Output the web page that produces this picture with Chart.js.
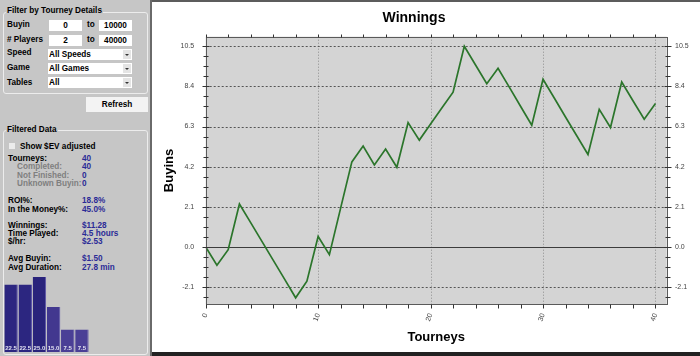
<!DOCTYPE html>
<html>
<head>
<meta charset="utf-8">
<script src="https://cdn.jsdelivr.net/npm/chart.js@4.4.1/dist/chart.umd.min.js"></script>
<style>
  html, body { margin:0; padding:0; }
  body { width:700px; height:356px; position:relative; overflow:hidden; background:#fff;
         font-family:'Liberation Sans', Arial, sans-serif; font-size:8.2px; font-weight:bold; color:#000; }
  .abs { position:absolute; }
  #panel { left:0; top:0; width:150px; height:356px; background:#c6c6c6; }
  #sep { left:150px; top:0; width:2px; height:356px; background:#6a6a6a; }
  #topbar { left:152px; top:0; width:548px; height:2px; background:#5c5c5c; }
  #botbar { left:152px; top:352px; width:548px; height:4px; background:#222; }
  .t { position:absolute; white-space:nowrap; line-height:10px; height:10px; }
  .grp { position:absolute; border:1px solid #ececec; border-radius:3px; }
  .leg { background:#c6c6c6; padding:0 1px; }
  .inp { position:absolute; background:#fff; text-align:center; height:11px; line-height:11px; width:33px; }
  .sel { position:absolute; background:#fff; height:11px; line-height:11px; width:84px; left:48px; }
  .sel span { position:absolute; left:1px; top:0; }
  .sel i { position:absolute; right:1px; top:1px; width:8px; height:9px; background:#e4e4e4; }
  .sel i:after { content:''; position:absolute; left:2px; top:4px; border-left:2px solid transparent; border-right:2px solid transparent; border-top:2px solid #333; }
  .g { color:#7f7f7f; }
  .v { color:#2b2b96; left:82px; }
  #refresh { left:86px; top:97px; width:62px; height:15px; line-height:15px; background:#f3f3f3; text-align:center; }
  #chk { left:9px; top:143px; width:6px; height:6px; background:#ececec; border:0; }
  #main { position:absolute; left:152px; top:2px; }
  #hist { position:absolute; left:4px; top:270px; }
</style>
</head>
<body>
<div id="panel" class="abs"></div>
<div id="sep" class="abs"></div>
<div id="topbar" class="abs"></div>
<div id="botbar" class="abs"></div>

<div class="grp" style="left:3px;top:12px;width:143px;height:80px;"></div>
<div class="t leg" style="left:6px;top:6px;">Filter by Tourney Details</div>
<div class="t" style="left:7px;top:20px;">Buyin</div>
<div class="inp" style="left:49px;top:20px;">0</div>
<div class="t" style="left:87px;top:20px;">to</div>
<div class="inp" style="left:99px;top:20px;">10000</div>
<div class="t" style="left:7px;top:35px;"># Players</div>
<div class="inp" style="left:49px;top:35px;">2</div>
<div class="t" style="left:87px;top:35px;">to</div>
<div class="inp" style="left:99px;top:35px;">40000</div>
<div class="t" style="left:7px;top:48px;">Speed</div>
<div class="sel" style="top:49px;"><span>All Speeds</span><i></i></div>
<div class="t" style="left:7px;top:63px;">Game</div>
<div class="sel" style="top:63px;"><span>All Games</span><i></i></div>
<div class="t" style="left:7px;top:78px;">Tables</div>
<div class="sel" style="top:77px;"><span>All</span><i></i></div>
<div id="refresh" class="abs">Refresh</div>

<div class="grp" style="left:3px;top:130px;width:143px;height:223px;"></div>
<div class="t leg" style="left:6px;top:125px;">Filtered Data</div>
<div id="chk" class="abs"></div>
<div class="t" style="left:20px;top:141.5px;">Show $EV adjusted</div>
<div class="t" style="left:8px;top:153.5px;">Tourneys:</div><div class="t v" style="top:153.5px;">40</div>
<div class="t g" style="left:17px;top:162px;">Completed:</div><div class="t v" style="top:162px;">40</div>
<div class="t g" style="left:17px;top:170.5px;">Not Finished:</div><div class="t v" style="top:170.5px;">0</div>
<div class="t g" style="left:17px;top:179px;">Unknown Buyin:</div><div class="t v" style="top:179px;">0</div>
<div class="t" style="left:8px;top:196px;">ROI%:</div><div class="t v" style="top:196px;">18.8%</div>
<div class="t" style="left:8px;top:204.5px;">In the Money%:</div><div class="t v" style="top:204.5px;">45.0%</div>
<div class="t" style="left:8px;top:221px;">Winnings:</div><div class="t v" style="top:221px;">$11.28</div>
<div class="t" style="left:8px;top:229px;">Time Played:</div><div class="t v" style="top:229px;">4.5 hours</div>
<div class="t" style="left:8px;top:237px;">$/hr:</div><div class="t v" style="top:237px;">$2.53</div>
<div class="t" style="left:8px;top:254px;">Avg Buyin:</div><div class="t v" style="top:254px;">$1.50</div>
<div class="t" style="left:8px;top:262.5px;">Avg Duration:</div><div class="t v" style="top:262.5px;">27.8 min</div>

<canvas id="hist" width="85" height="82"></canvas>
<canvas id="main" width="548" height="350"></canvas>

<script>
// ---- data ----
const tourneys = [0,1,2,3,4,5,6,7,8,9,10,11,12,13,14,15,16,17,18,19,20,21,22,23,24,25,26,27,28,29,30,31,32,33,34,35,36,37,38,39,40];
const buyins = [0, -0.96, -0.14, 2.25, 1.27, 0.29, -0.69, -1.67, -2.66, -1.79, 0.55, -0.40, 2.03, 4.45, 5.28, 4.29, 5.12, 4.17, 6.51, 5.59, 6.43, 7.27, 8.10, 10.50, 9.52, 8.54, 9.35, 8.36, 7.36, 6.37, 8.77, 7.79, 6.80, 5.82, 4.84, 7.20, 6.25, 8.63, 7.65, 6.68, 7.50];
const yTicks = [-2.1, 0.0, 2.1, 4.2, 6.3, 8.4, 10.5];
const xTicks = [0, 10, 20, 30, 40];
const histPositions = ['1', '2', '3', '4', '5', '6'];
const histPercent = [22.5, 22.5, 25.0, 15.0, 7.5, 7.5];

// ---- styles ----
const histColors = ['#2c2680', '#2c2680', '#29237b', '#42388f', '#4a3f96', '#4a3f96'];
Chart.defaults.font.family = "'Liberation Sans', Arial, sans-serif";

const framePlugin = {
  id: 'framePlugin',
  beforeDatasetsDraw(chart) {
    const {ctx, chartArea: a} = chart;
    const x = chart.scales.x, y = chart.scales.y;
    ctx.save();
    ctx.fillStyle = '#d4d4d4';
    ctx.fillRect(a.left, a.top, a.right - a.left, a.bottom - a.top);
    ctx.lineWidth = 1;
    ctx.setLineDash([1, 2]);
    ctx.strokeStyle = '#8c8c8c';
    xTicks.forEach(v => {
      if (v === 0) return;
      const px = Math.round(x.getPixelForValue(v)) + 0.5;
      ctx.beginPath(); ctx.moveTo(px, a.top); ctx.lineTo(px, a.bottom); ctx.stroke();
    });
    ctx.setLineDash([2, 2]);
    ctx.strokeStyle = '#555';
    yTicks.forEach(v => {
      if (v === 0) return;
      const py = Math.round(y.getPixelForValue(v)) + 0.5;
      ctx.beginPath(); ctx.moveTo(a.left, py); ctx.lineTo(a.right, py); ctx.stroke();
    });
    ctx.setLineDash([]);
    ctx.strokeStyle = '#3c3c3c';
    const pz = Math.round(y.getPixelForValue(0)) + 0.5;
    ctx.beginPath(); ctx.moveTo(a.left, pz); ctx.lineTo(a.right, pz); ctx.stroke();
    ctx.restore();
  },
  afterDraw(chart) {
    const {ctx, chartArea: a} = chart;
    const x = chart.scales.x, y = chart.scales.y;
    ctx.save();
    ctx.lineWidth = 1;
    ctx.strokeStyle = '#5a5a5a';
    const L = Math.round(a.left) + 0.5, R = Math.round(a.right) + 0.5;
    const T = Math.round(a.top) + 0.5, B = Math.round(a.bottom) + 0.5;
    ctx.strokeRect(L, T, R - L, B - T);
    ctx.strokeStyle = '#333';
    const ys = (yTicks[1] - yTicks[0]) / 4;
    for (let k = Math.ceil(y.min / ys); k * ys <= y.max + 1e-9; k++) {
      const v = k * ys;
      const py = Math.round(y.getPixelForValue(v)) + 0.5;
      const major = k % 4 === 0;
      const out = major ? 4 : 3, inn = major ? 3 : 2;
      ctx.beginPath();
      ctx.moveTo(L - out, py); ctx.lineTo(L + inn, py);
      ctx.moveTo(R - inn, py); ctx.lineTo(R + out, py);
      ctx.stroke();
    }
    for (let v = 0; v <= x.max; v += 2) {
      const px = Math.round(x.getPixelForValue(v)) + 0.5;
      ctx.beginPath();
      ctx.moveTo(px, B); ctx.lineTo(px, B + 4);
      ctx.moveTo(px, T); ctx.lineTo(px, T - 3);
      ctx.stroke();
    }
    ctx.restore();
  }
};

const tickFont = {size: 7};
new Chart(document.getElementById('main'), {
  type: 'line',
  data: {
    datasets: [{
      data: tourneys.map((t, i) => ({x: t, y: buyins[i]})),
      borderColor: '#2b752b',
      borderWidth: 1.7,
      pointRadius: 0,
      tension: 0,
      fill: false
    }]
  },
  options: {
    responsive: false,
    animation: false,
    events: [],
    layout: {padding: {left: 0, right: 24, top: 0, bottom: 0}},
    plugins: {
      legend: {display: false},
      tooltip: {enabled: false},
      title: {display: true, text: 'Winnings', color: '#000',
              font: {size: 14, weight: 'bold'}, padding: {top: 8, bottom: 9.9}}
    },
    scales: {
      x: {
        type: 'linear', position: 'bottom', min: 0, max: 41,
        afterBuildTicks: s => { s.ticks = xTicks.map(v => ({value: v})); },
        afterFit: s => { s.height = 47.7; s.paddingLeft = 0; s.paddingRight = 0; },
        grid: {display: false, drawTicks: false},
        border: {display: false},
        ticks: {minRotation: 70, maxRotation: 70, padding: 8, color: '#444', font: tickFont,
                autoSkip: false, callback: v => String(v)},
        title: {display: true, text: 'Tourneys', color: '#000',
                font: {size: 13, weight: 'bold'}, padding: {top: 0, bottom: 6.7}}
      },
      y: {
        position: 'left', min: -3, max: 11,
        afterBuildTicks: s => { s.ticks = yTicks.map(v => ({value: v})); },
        afterFit: s => { s.width = 53.7; s.paddingTop = 0; s.paddingBottom = 0; },
        grid: {display: false, drawTicks: false},
        border: {display: false},
        ticks: {padding: 11.5, color: '#444', font: tickFont, autoSkip: false,
                callback: v => Number(v).toFixed(1)},
        title: {display: true, text: 'Buyins', color: '#000',
                font: {size: 13, weight: 'bold'}, padding: {top: 9.2, bottom: 0}}
      },
      y2: {
        position: 'right', min: -3, max: 11, display: true,
        afterBuildTicks: s => { s.ticks = yTicks.map(v => ({value: v})); },
        afterFit: s => {
          s.width = 9.3; s.paddingTop = 0; s.paddingBottom = 0;
          s._computeLabelArea = () => undefined;
        },
        grid: {display: false, drawTicks: false},
        border: {display: false},
        ticks: {display: true, padding: 8.3, color: '#444', font: tickFont, autoSkip: false,
                callback: v => Number(v).toFixed(1)}
      }
    }
  },
  plugins: [framePlugin]
});

const barLabels = {
  id: 'barLabels',
  afterDatasetsDraw(chart) {
    const {ctx} = chart;
    const meta = chart.getDatasetMeta(0);
    ctx.save();
    ctx.fillStyle = '#e2e2f2';
    ctx.font = "bold 6px 'Liberation Sans', Arial, sans-serif";
    ctx.textAlign = 'center';
    ctx.textBaseline = 'bottom';
    meta.data.forEach((bar, i) => {
      ctx.fillText(histPercent[i].toFixed(1), bar.x, bar.base - 1);
    });
    ctx.restore();
  }
};

new Chart(document.getElementById('hist'), {
  type: 'bar',
  data: {
    labels: histPositions,
    datasets: [{
      data: histPercent,
      backgroundColor: histColors,
      borderColor: '#5a52a8',
      borderWidth: {left: 0, top: 0, bottom: 0, right: 1},
      categoryPercentage: 1,
      barPercentage: 0.95
    }]
  },
  options: {
    responsive: false,
    animation: false,
    events: [],
    layout: {padding: 0},
    plugins: {legend: {display: false}, tooltip: {enabled: false}},
    scales: {
      x: {display: false},
      y: {display: false, min: 0, max: 27.3}
    }
  },
  plugins: [barLabels]
});
</script>
</body>
</html>
